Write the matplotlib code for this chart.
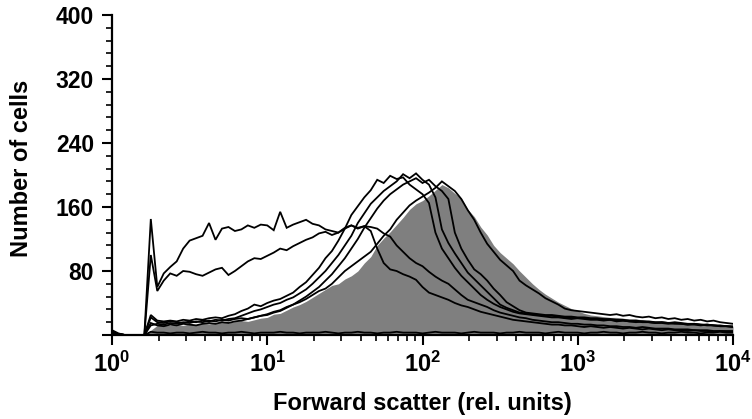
import numpy as np
import matplotlib
matplotlib.use("Agg")
import matplotlib.pyplot as plt
from matplotlib.ticker import MultipleLocator, LogLocator, NullFormatter

plt.rcParams['font.family'] = ['Liberation Sans', 'DejaVu Sans']
plt.rcParams['mathtext.fontset'] = 'custom'
plt.rcParams['mathtext.rm'] = 'Liberation Sans:bold'
plt.rcParams['mathtext.bf'] = 'Liberation Sans:bold'
plt.rcParams['mathtext.it'] = 'Liberation Sans:bold'

# ---- data: histogram counts on a log channel scale (24 channels / decade, 10^0..10^4)
CHANNELS_PER_DECADE = 24
N_CHANNELS = 97

gray_ref = [0, 0, 0, 0, 0, 0,
            6, 12, 13, 12, 13, 12, 14, 13, 15, 14,
            15, 16, 15, 17, 18, 17, 19, 21, 22, 26,
            27, 31, 35, 38, 42, 47, 52, 57, 62, 64,
            70, 74, 80, 90, 98, 112, 121, 129, 138, 147,
            157, 164, 168, 174, 181, 188, 184, 177, 171, 157,
            148, 135, 125, 112, 103, 96, 89, 80, 72, 64,
            57, 51, 46, 41, 37, 33, 30, 27, 25, 24,
            23, 22, 22, 21, 20, 20, 19, 18, 18, 17,
            17, 16, 16, 15, 15, 14, 14, 13, 12, 12, 11]

curve_a = [6, 2, 0, 0, 0, 0,
           145, 60, 77, 85, 92, 108, 118, 121, 124, 140,
           119, 133, 135, 130, 132, 137, 134, 138, 137, 131,
           154, 134, 138, 141, 144, 139, 137, 132, 130, 128,
           134, 137, 133, 136, 130, 108, 90, 82, 80, 76,
           73, 69, 60, 53, 50, 47, 44, 40, 37, 35,
           32, 29, 27, 25, 23, 21, 19, 18, 17, 16,
           15, 14, 13, 13, 12, 12, 11, 10, 11, 10,
           9, 10, 9, 8, 9, 8, 7, 8, 7, 6,
           7, 6, 6, 5, 6, 5, 5, 4, 5, 4, 4]

curve_b = [5, 1, 0, 0, 0, 0,
           100, 55, 68, 77, 74, 80, 79, 76, 74, 78,
           82, 84, 75, 80, 86, 92, 96, 95, 99, 103,
           108, 106, 111, 115, 119, 122, 127, 129, 125, 128,
           133, 137, 134, 136, 135, 133, 127, 123, 112, 104,
           96, 90, 86, 79, 73, 68, 64, 57, 50, 44,
           41, 38, 35, 31, 28, 26, 24, 22, 21, 19,
           18, 17, 16, 16, 15, 14, 14, 13, 13, 12,
           12, 11, 11, 10, 10, 9, 10, 9, 8, 8,
           8, 7, 7, 7, 6, 6, 6, 5, 5, 5, 5]

curve_p1 = [4, 1, 0, 0, 0, 0,
            25, 18, 17, 18, 17, 19, 18, 20, 19, 21,
            22, 21, 24, 26, 30, 33, 38, 36, 40, 43,
            45, 49, 53, 60, 66, 75, 84, 96, 105, 118,
            133, 150, 161, 172, 181, 194, 190, 199, 195, 197,
            188, 182, 176, 165, 128, 108, 96, 84, 74, 66,
            58, 50, 44, 39, 35, 32, 29, 27, 26, 25,
            24, 23, 22, 22, 21, 20, 21, 20, 19, 19,
            18, 19, 17, 18, 17, 16, 17, 16, 15, 15,
            14, 15, 14, 13, 13, 12, 13, 12, 11, 11, 10]

curve_p2 = [4, 1, 0, 0, 0, 0,
            22, 16, 15, 17, 16, 15, 17, 16, 18, 17,
            19, 18, 20, 21, 24, 27, 30, 32, 35, 38,
            40, 44, 47, 52, 57, 64, 72, 80, 90, 100,
            112, 124, 140, 152, 164, 172, 180, 186, 192, 201,
            196, 202, 194, 188, 172, 132, 115, 102, 90, 78,
            70, 62, 54, 46, 38, 34, 31, 28, 27, 26,
            25, 24, 24, 23, 22, 22, 21, 21, 20, 20,
            19, 19, 18, 18, 17, 17, 16, 16, 15, 16,
            15, 14, 14, 13, 14, 13, 12, 12, 11, 11, 10]

curve_p3 = [3, 1, 0, 0, 0, 0,
            15, 12, 11, 13, 12, 14, 13, 12, 14, 15,
            14, 16, 15, 17, 18, 20, 22, 24, 26, 29,
            31, 35, 38, 43, 48, 54, 60, 68, 76, 86,
            96, 108, 120, 134, 146, 158, 168, 176, 182, 188,
            192, 196, 190, 194, 186, 180, 170, 128, 108, 94,
            82, 76, 68, 58, 50, 41, 36, 31, 28, 27,
            26, 25, 25, 24, 23, 23, 22, 22, 21, 21,
            20, 20, 19, 19, 18, 18, 17, 17, 16, 16,
            15, 16, 15, 14, 14, 13, 13, 12, 12, 11, 11]

curve_p4 = [3, 1, 0, 0, 0, 0,
            12, 14, 13, 15, 14, 16, 15, 17, 16, 18,
            17, 19, 18, 20, 21, 20, 22, 24, 25, 28,
            30, 34, 38, 41, 45, 50, 55, 58, 64, 72,
            80, 86, 92, 98, 104, 114, 124, 132, 144, 153,
            162, 168, 173, 178, 184, 192, 186, 180, 170, 156,
            144, 128, 114, 104, 94, 87, 80, 68, 62, 57,
            52, 46, 42, 38, 33, 31, 30, 29, 28, 27,
            26, 25, 26, 24, 25, 23, 22, 23, 21, 22,
            20, 21, 19, 20, 18, 19, 17, 18, 16, 15, 14]

curve_zero = [0, 0, 0, 0, 0, 0,
              4, 3, 3, 2, 3, 3, 2, 3, 4, 3,
              3, 2, 3, 3, 4, 3, 2, 3, 3, 3,
              4, 3, 3, 2, 3, 3, 3, 4, 3, 2,
              3, 3, 4, 3, 3, 2, 3, 3, 4, 3,
              3, 3, 2, 3, 4, 3, 3, 3, 2, 3,
              4, 3, 3, 3, 2, 3, 3, 4, 3, 3,
              3, 2, 3, 4, 3, 3, 3, 2, 3, 3,
              4, 3, 3, 2, 3, 3, 4, 3, 3, 2,
              3, 3, 4, 3, 3, 2, 3, 3, 4, 3, 3]

y_tick_values = [0, 80, 160, 240, 320, 400]
y_tick_labels = ['', '80', '160', '240', '320', '400']
x_tick_values = [1, 10, 100, 1000, 10000]
x_tick_labels = [r'$\mathbf{10^{0}}$', r'$\mathbf{10^{1}}$', r'$\mathbf{10^{2}}$',
                 r'$\mathbf{10^{3}}$', r'$\mathbf{10^{4}}$']

# channel positions on the log forward-scatter axis
fsc = 10.0 ** (np.arange(N_CHANNELS) / CHANNELS_PER_DECADE)

fig = plt.figure(figsize=(7.52, 4.19), dpi=100)
ax = fig.add_axes([112 / 752, 84 / 419, 621 / 752, 320 / 419])

ax.fill_between(fsc, 0, gray_ref, color='#7f7f7f', linewidth=0, zorder=1)
for ys in [curve_zero, curve_a, curve_b, curve_p1, curve_p2, curve_p3, curve_p4]:
    ax.plot(fsc, ys, color='black', linewidth=1.3, zorder=2, solid_joinstyle='miter')

ax.set_xscale('log')
ax.set_xlim(1, 1e4)
ax.set_ylim(0, 400)

for side in ['top', 'right']:
    ax.spines[side].set_visible(False)
for side in ['left', 'bottom']:
    ax.spines[side].set_linewidth(1.6)
    ax.spines[side].set_zorder(3)

ax.set_yticks(y_tick_values)
ax.set_yticklabels(y_tick_labels)
ax.yaxis.set_minor_locator(MultipleLocator(16))
ax.set_xticks(x_tick_values)
ax.set_xticklabels(x_tick_labels)
ax.xaxis.set_minor_locator(LogLocator(base=10, subs=range(2, 10)))
ax.xaxis.set_minor_formatter(NullFormatter())

ax.tick_params(which='major', direction='out', length=7, width=1.5, pad=5)
ax.tick_params(axis='y', which='major', labelsize=16.5, pad=6)
ax.tick_params(axis='x', which='major', labelsize=17, pad=5)
ax.tick_params(which='minor', direction='out', length=4, width=1.2)
for lab in ax.get_yticklabels():
    lab.set_fontweight('bold')

ax.set_ylabel('Number of cells', fontsize=17, fontweight='bold')
ax.yaxis.set_label_coords(-0.127, 0.522)
ax.set_xlabel('Forward scatter (rel. units)', fontsize=17, fontweight='bold', labelpad=11)

fig.savefig('out.png', dpi=100)
